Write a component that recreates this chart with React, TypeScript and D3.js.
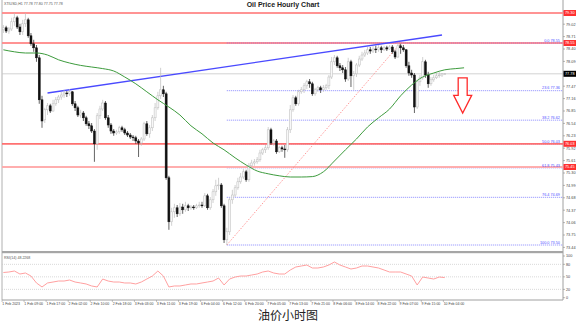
import React from 'react';
import * as d3 from 'd3';

const W = 576;
const H = 325;

// OHLC per hourly bar: [open, high, low, close]
const candles: [number, number, number, number][] = [
  [78.88, 79.0, 78.8, 78.93], [78.93, 78.98, 78.8, 78.85], [78.85, 78.95, 78.78, 78.9], [78.9, 79.18, 78.85, 79.08],
  [79.08, 79.3, 78.98, 79.18], [79.18, 79.23, 78.9, 78.95], [78.95, 79.03, 78.75, 78.83], [78.83, 79.13, 78.75, 79.03],
  [79.03, 79.3, 78.95, 79.13], [79.13, 79.18, 78.68, 78.73], [78.73, 78.8, 78.48, 78.53], [78.53, 78.63, 78.33, 78.43],
  [78.43, 78.5, 78.08, 78.18], [78.18, 78.25, 77.03, 77.13], [77.13, 77.23, 76.43, 76.6], [76.63, 76.93, 76.55, 76.88],
  [76.88, 77.05, 76.75, 76.98], [76.98, 77.03, 76.8, 76.85], [76.85, 77.13, 76.83, 77.03], [77.03, 77.2, 76.98, 77.13],
  [77.13, 77.25, 77.05, 77.2], [77.2, 77.33, 77.13, 77.25], [77.25, 77.38, 77.18, 77.3], [77.3, 77.35, 77.2, 77.28],
  [77.28, 77.4, 77.23, 77.33], [77.33, 77.35, 76.98, 77.03], [77.03, 77.1, 76.85, 76.93], [76.93, 76.98, 76.7, 76.75],
  [76.75, 76.88, 76.68, 76.8], [76.8, 76.85, 76.6, 76.68], [76.68, 76.73, 76.48, 76.53], [76.53, 76.6, 76.4, 76.48],
  [76.48, 76.55, 76.3, 76.35], [76.35, 76.4, 75.58, 76.03], [76.03, 76.8, 75.88, 76.73], [76.73, 76.98, 76.65, 76.9],
  [76.9, 77.13, 76.85, 77.05], [77.05, 77.1, 76.63, 76.68], [76.68, 76.75, 76.43, 76.5], [76.5, 76.55, 76.28, 76.35],
  [76.35, 76.4, 76.23, 76.3], [76.3, 76.38, 76.25, 76.33], [76.33, 76.48, 76.28, 76.43], [76.43, 76.48, 76.33, 76.38],
  [76.38, 76.43, 76.25, 76.3], [76.3, 76.35, 76.2, 76.25], [76.25, 76.3, 76.15, 76.2], [76.2, 76.25, 76.1, 76.18],
  [76.18, 76.23, 76.03, 76.1], [76.1, 76.15, 75.7, 76.05], [76.05, 76.2, 75.98, 76.15], [76.15, 76.58, 76.1, 76.53],
  [76.53, 76.6, 76.23, 76.28], [76.28, 76.5, 76.18, 76.43], [76.43, 76.75, 76.35, 76.68], [76.68, 77.05, 76.6, 76.93],
  [76.93, 77.33, 76.88, 77.23], [77.23, 77.93, 77.15, 77.38], [77.38, 77.48, 77.2, 77.28], [77.28, 77.33, 75.13, 75.18],
  [75.18, 75.23, 73.88, 74.08], [74.08, 74.43, 73.98, 74.33], [74.33, 74.53, 74.18, 74.43], [74.43, 74.5, 74.2, 74.28],
  [74.28, 74.55, 74.23, 74.45], [74.45, 74.53, 74.28, 74.38], [74.38, 74.58, 74.33, 74.48], [74.48, 74.53, 74.35, 74.43],
  [74.43, 74.5, 74.38, 74.45], [74.45, 74.5, 74.38, 74.43], [74.43, 74.53, 74.4, 74.48], [74.48, 74.58, 74.43, 74.5],
  [74.5, 74.58, 74.43, 74.48], [74.48, 74.8, 74.45, 74.73], [74.73, 74.78, 74.38, 74.43], [74.43, 74.7, 74.38, 74.63],
  [74.63, 74.9, 74.55, 74.83], [74.83, 75.13, 74.73, 74.98], [74.98, 75.18, 74.88, 75.0], [75.0, 75.05, 74.43, 74.48],
  [74.48, 74.53, 73.55, 73.63], [73.63, 73.93, 73.5, 73.83], [73.83, 74.68, 73.75, 74.63], [74.63, 74.88, 74.53, 74.75],
  [74.75, 75.0, 74.7, 74.93], [74.93, 75.18, 74.88, 75.08], [75.08, 75.3, 75.03, 75.2], [75.2, 75.4, 75.15, 75.33],
  [75.33, 75.38, 75.08, 75.13], [75.13, 75.55, 75.08, 75.48], [75.48, 75.63, 75.43, 75.55], [75.55, 75.65, 75.48, 75.58],
  [75.58, 75.7, 75.53, 75.63], [75.63, 75.88, 75.58, 75.8], [75.8, 75.93, 75.75, 75.88], [75.88, 76.0, 75.8, 75.93],
  [75.93, 76.45, 75.88, 76.38], [76.38, 76.43, 76.0, 76.05], [76.05, 76.15, 75.98, 76.1], [76.1, 76.15, 75.78, 75.83],
  [75.83, 75.98, 75.8, 75.93], [75.93, 75.98, 75.83, 75.9], [75.9, 76.0, 75.68, 75.88], [75.88, 76.45, 75.83, 76.38],
  [76.38, 77.0, 76.3, 76.88], [76.88, 77.25, 76.83, 77.18], [77.18, 77.23, 76.98, 77.03], [77.03, 77.38, 76.98, 77.33],
  [77.33, 77.45, 77.28, 77.38], [77.38, 77.55, 77.3, 77.48], [77.48, 77.63, 77.4, 77.58], [77.58, 77.65, 77.43, 77.53],
  [77.53, 77.58, 77.23, 77.28], [77.28, 77.43, 77.23, 77.38], [77.38, 77.48, 77.33, 77.43], [77.43, 77.48, 77.3, 77.38],
  [77.38, 77.5, 77.33, 77.43], [77.43, 77.53, 77.38, 77.48], [77.48, 77.75, 77.4, 77.7], [77.7, 78.2, 77.65, 78.08],
  [78.08, 78.25, 78.0, 78.18], [78.18, 78.23, 77.93, 77.98], [77.98, 78.05, 77.85, 77.93], [77.93, 78.0, 77.8, 77.88],
  [77.88, 77.95, 77.58, 77.65], [77.65, 78.18, 77.6, 78.08], [78.08, 78.13, 77.45, 77.73], [77.73, 77.85, 77.38, 77.78],
  [77.78, 78.05, 77.7, 78.0], [78.0, 78.23, 77.95, 78.15], [78.15, 78.33, 78.1, 78.25], [78.25, 78.38, 78.2, 78.3],
  [78.3, 78.45, 78.25, 78.38], [78.38, 78.45, 78.28, 78.35], [78.35, 78.48, 78.3, 78.4], [78.4, 78.48, 78.3, 78.38],
  [78.38, 78.5, 78.33, 78.43], [78.43, 78.48, 78.3, 78.38], [78.38, 78.48, 78.35, 78.43], [78.43, 78.48, 78.35, 78.4],
  [78.4, 78.5, 78.38, 78.45], [78.45, 78.5, 78.28, 78.33], [78.33, 78.38, 78.15, 78.2], [78.2, 78.55, 78.18, 78.48],
  [78.48, 78.53, 78.28, 78.43], [78.43, 78.5, 78.33, 78.38], [78.38, 78.4, 77.93, 77.98], [77.98, 78.08, 77.73, 77.8],
  [77.8, 77.88, 77.68, 77.75], [77.75, 77.8, 76.8, 76.95], [76.95, 77.63, 76.9, 77.58], [77.58, 77.75, 77.48, 77.68],
  [77.68, 78.2, 77.63, 78.08], [78.08, 78.13, 77.68, 77.75], [77.75, 77.83, 77.43, 77.53], [77.53, 77.7, 77.48, 77.63],
  [77.63, 77.75, 77.58, 77.68], [77.68, 77.8, 77.65, 77.73], [77.73, 77.83, 77.68, 77.75], [77.75, 77.8, 77.7, 77.78],
  [77.78, 77.8, 77.75, 77.78],
];

// Moving average (green), sampled at these bar indices
const maBars = [0, 4, 8, 12, 16, 20, 24, 28, 32, 36, 40, 44, 48, 52, 56, 60, 64, 68, 72, 76, 80, 84, 88, 92, 96, 100, 104, 108, 112, 116, 120, 124, 128, 132, 136, 140, 144, 148, 152, 156, 160, 164, 167];
const maValues = [78.38, 78.33, 78.3, 78.3, 78.25, 78.13, 78.05, 77.99, 77.95, 77.91, 77.85, 77.7, 77.53, 77.33, 77.13, 76.95, 76.75, 76.48, 76.28, 76.05, 75.88, 75.68, 75.5, 75.35, 75.28, 75.23, 75.2, 75.2, 75.21, 75.33, 75.6, 75.88, 76.15, 76.45, 76.68, 76.9, 77.23, 77.5, 77.7, 77.8, 77.88, 77.91, 77.93];

// RSI(14), one value every 2 bars
const rsiStep = 2;
const rsiValues = [60.4, 61.6, 64.0, 56.8, 59.2, 52.0, 35.3, 25.7, 35.3, 37.6, 40.0, 40.0, 42.4, 37.6, 35.3, 32.9, 28.1, 25.7, 44.8, 40.0, 37.6, 37.6, 35.3, 35.3, 32.9, 37.6, 44.8, 52.0, 64.0, 52.0, 25.7, 28.1, 28.1, 30.5, 32.9, 32.9, 35.3, 37.6, 40.0, 47.2, 30.5, 44.8, 49.6, 52.0, 52.0, 54.4, 56.8, 61.6, 64.0, 59.2, 56.8, 56.8, 66.4, 73.6, 76.0, 78.4, 71.2, 71.2, 73.6, 78.4, 85.6, 78.4, 73.6, 68.8, 71.2, 76.0, 76.0, 73.6, 71.2, 66.4, 61.6, 61.6, 61.6, 56.8, 52.0, 30.5, 49.6, 47.2, 44.8, 49.6, 48.2];
const rsiLevels = [80, 50, 20];
const rsiTicks = [100, 80, 50, 20, 0];

const xLabels = ['1 Feb 2023', '1 Feb 09:00', '1 Feb 17:00', '2 Feb 02:00', '2 Feb 10:00', '2 Feb 18:00', '3 Feb 03:00', '3 Feb 11:00', '3 Feb 19:00', '6 Feb 04:00', '6 Feb 12:00', '6 Feb 20:00', '7 Feb 05:00', '7 Feb 13:00', '7 Feb 21:00', '8 Feb 06:00', '8 Feb 14:00', '8 Feb 22:00', '9 Feb 07:00', '9 Feb 15:00', '10 Feb 04:00'];
const xLabelEvery = 8;

const priceTicks = [79.33, 79.02, 78.71, 78.4, 78.09, 77.78, 77.47, 77.16, 76.85, 76.54, 76.23, 75.92, 75.61, 75.3, 74.99, 74.68, 74.37, 74.06, 73.75, 73.44];

// Horizontal support / resistance lines
const redLevels = [79.3, 78.55, 76.03, 75.45];
const redColors = ['#ff8e8e', '#ff8e8e', '#ff6a6a', '#ffaaaa'];

// Fibonacci retracement from swing low to swing high
const fibLowBar = 81;
const fibHighBar = 144;
const fibLow = 73.5;
const fibHigh = 78.55;
const fibRatios = [0, 23.6, 38.2, 50.0, 61.8, 76.4, 100.0];

// Blue trend line
const trendBars = [16, 159];
const trendPrices = [77.3, 78.75];

// Down arrow annotation
const arrowBar = 166.5;
const arrowTop = 77.68;
const arrowTip = 76.8;

const lastPrice = 77.78;
const symbolInfo = 'XTIUSD,H1  77.78 77.80 77.75 77.78';
const rsiInfo = 'RSI(14) 48.2268';
const title = 'Oil Price Hourly Chart';
const caption = '油价小时图';

const FONT = "'Liberation Sans', Arial, sans-serif";

export default function App() {
  const left = 2;
  const right = 563;
  const mainBottom = 251;
  const rsiTop = 254;
  const rsiBottom = 300;

  const x = d3.scaleLinear().domain([0, 203]).range([left, 562]);
  const cx = (i: number) => x(i + 0.5);
  const y = d3.scaleLinear().domain([fibLow, fibHigh]).range([245, 43]);
  const ry = d3.scaleLinear().domain([0, 100]).range([297.7, 256]);

  const maLine = d3.line<number>().x((_, k) => cx(maBars[k])).y((v) => y(v)).curve(d3.curveMonotoneX);
  const rsiLine = d3.line<number>().x((_, k) => cx(k * rsiStep)).y((v) => ry(v));

  const bw = 2;
  const fibX0 = cx(fibLowBar);

  const ax = cx(arrowBar);
  const aTop = y(arrowTop);
  const aTip = y(arrowTip);
  const aNeck = aTop + (aTip - aTop) * 0.5;
  const arrowPath = `M${ax - 4.5},${aTop} L${ax + 4.5},${aTop} L${ax + 4.5},${aNeck} L${ax + 9},${aNeck} L${ax},${aTip} L${ax - 9},${aNeck} L${ax - 4.5},${aNeck} Z`;

  return (
    <svg width={W} height={H} style={{ position: 'absolute', left: 0, top: 0, background: '#fff' }} fontFamily={FONT}>
      <defs>
        <clipPath id="mainClip">
          <rect x={left} y={0} width={right - left} height={mainBottom} />
        </clipPath>
        <clipPath id="rsiClip">
          <rect x={left} y={rsiTop} width={right - left} height={rsiBottom - rsiTop} />
        </clipPath>
      </defs>
      <rect x={0} y={0} width={W} height={H} fill="#fff" />

      {/* frame */}
      <line x1={left} x2={left} y1={0} y2={rsiBottom} stroke="#b0b0b0" strokeWidth={1} />
      <line x1={right} x2={right} y1={0} y2={rsiBottom} stroke="#a0a0a0" strokeWidth={1} />
      <rect x={left} y={mainBottom} width={right - left} height={2.2} fill="#a6a6a6" />
      <line x1={left} x2={right} y1={rsiBottom} y2={rsiBottom} stroke="#a0a0a0" strokeWidth={1} />

      <g clipPath="url(#mainClip)">
        {/* current price line */}
        <line x1={left} x2={right} y1={y(lastPrice)} y2={y(lastPrice)} stroke="#c8c8c8" strokeWidth={0.8} />

        {/* fib levels */}
        {fibRatios.map((r) => {
          const p = fibHigh - (fibHigh - fibLow) * (r / 100);
          return (
            <line key={'f' + r} x1={fibX0} x2={right} y1={y(p)} y2={y(p)} stroke="#8a8aff" strokeWidth={1} strokeDasharray="1,1" />
          );
        })}

        {/* red levels */}
        {redLevels.map((p, k) => (
          <line key={'r' + k} x1={left} x2={right} y1={y(p)} y2={y(p)} stroke={redColors[k]} strokeWidth={1.8} opacity={0.95} />
        ))}
        {/* fib level over red at 0.0 */}
        <line x1={fibX0} x2={right} y1={y(fibHigh)} y2={y(fibHigh)} stroke="#b070d0" strokeWidth={1} strokeDasharray="1,1" />

        {/* fib diagonal */}
        <line x1={cx(fibLowBar)} y1={y(fibLow)} x2={cx(fibHighBar)} y2={y(fibHigh)} stroke="#ff8080" strokeWidth={0.8} strokeDasharray="1.5,1.5" />

        {/* fib labels */}
        {fibRatios.map((r) => {
          const p = fibHigh - (fibHigh - fibLow) * (r / 100);
          return (
            <text key={'ft' + r} x={right - 3} y={y(p) - 1.2} fontSize={3.8} textAnchor="end" fill="#5050ff">
              {r.toFixed(1)} {p.toFixed(2)}
            </text>
          );
        })}

        {/* trend line */}
        <line x1={cx(trendBars[0])} y1={y(trendPrices[0])} x2={cx(trendBars[1])} y2={y(trendPrices[1])} stroke="#4a4aff" strokeWidth={1.4} />

        {/* candles */}
        {candles.map(([o, h, l, c], i) => {
          const xc = cx(i);
          const bull = c >= o;
          const top = y(Math.max(o, c));
          const bot = y(Math.min(o, c));
          return (
            <g key={'c' + i}>
              <line x1={xc} x2={xc} y1={y(h)} y2={y(l)} stroke={bull ? '#bdbdbd' : '#222'} strokeWidth={0.7} />
              <rect
                x={xc - bw / 2}
                y={top}
                width={bw}
                height={Math.max(0.8, bot - top)}
                fill={bull ? '#f8f8f8' : '#111'}
                stroke={bull ? '#bbbbbb' : '#111'}
                strokeWidth={0.5}
              />
            </g>
          );
        })}

        {/* moving average */}
        <path d={maLine(maValues) || ''} fill="none" stroke="#3d9b3d" strokeWidth={1} />

        {/* arrow */}
        <path d={arrowPath} fill="#fff" stroke="#ff2a2a" strokeWidth={1.3} strokeLinejoin="miter" />
      </g>

      {/* symbol info */}
      <text x={4} y={4.5} fontSize={3.6} fill="#555">{symbolInfo}</text>
      <text x={283} y={7} fontSize={7} fontWeight="bold" textAnchor="middle" fill="#222">{title}</text>

      {/* price axis */}
      {priceTicks.map((p) => (
        <g key={'pt' + p}>
          <line x1={right} x2={right + 2} y1={y(p)} y2={y(p)} stroke="#888" strokeWidth={0.6} />
          <text x={right + 3} y={y(p) + 1.3} fontSize={3.8} fill="#444">{p.toFixed(2)}</text>
        </g>
      ))}
      {redLevels.map((p, k) => (
        <g key={'rb' + k}>
          <rect x={right + 0.5} y={y(p) - 3} width={12.5} height={6} fill="#ff3030" />
          <text x={right + 2} y={y(p) + 1.3} fontSize={3.8} fill="#fff">{p.toFixed(2)}</text>
        </g>
      ))}
      <rect x={right + 0.5} y={y(lastPrice) - 3} width={12.5} height={6} fill="#000" />
      <text x={right + 2} y={y(lastPrice) + 1.3} fontSize={3.8} fill="#fff">{lastPrice.toFixed(2)}</text>

      {/* RSI panel */}
      <g clipPath="url(#rsiClip)">
        {rsiLevels.map((v) => (
          <line key={'rl' + v} x1={left} x2={right} y1={ry(v)} y2={ry(v)} stroke="#c8c8c8" strokeWidth={0.7} strokeDasharray="1,1" />
        ))}
        <path d={rsiLine(rsiValues) || ''} fill="none" stroke="#ffa0a0" strokeWidth={1} />
      </g>
      <text x={4} y={258.5} fontSize={3.6} fill="#555">{rsiInfo}</text>
      {rsiTicks.map((v) => (
        <g key={'rt' + v}>
          <line x1={right} x2={right + 2} y1={ry(v)} y2={ry(v)} stroke="#888" strokeWidth={0.6} />
          <text x={right + 3} y={ry(v) + 1.3} fontSize={3.8} fill="#444">{v}</text>
        </g>
      ))}

      {/* time axis */}
      {xLabels.map((s, k) => {
        const xi = x(k * xLabelEvery);
        return (
          <g key={'xl' + k}>
            <line x1={xi} x2={xi} y1={rsiBottom} y2={rsiBottom + 2} stroke="#888" strokeWidth={0.5} />
            <text x={xi + 0.3} y={304.5} fontSize={3.5} fill="#444">{s}</text>
          </g>
        );
      })}

      <text x={288} y={320} fontSize={12} textAnchor="middle" fill="#222" fontFamily="'Noto Sans CJK SC', sans-serif">{caption}</text>
    </svg>
  );
}
